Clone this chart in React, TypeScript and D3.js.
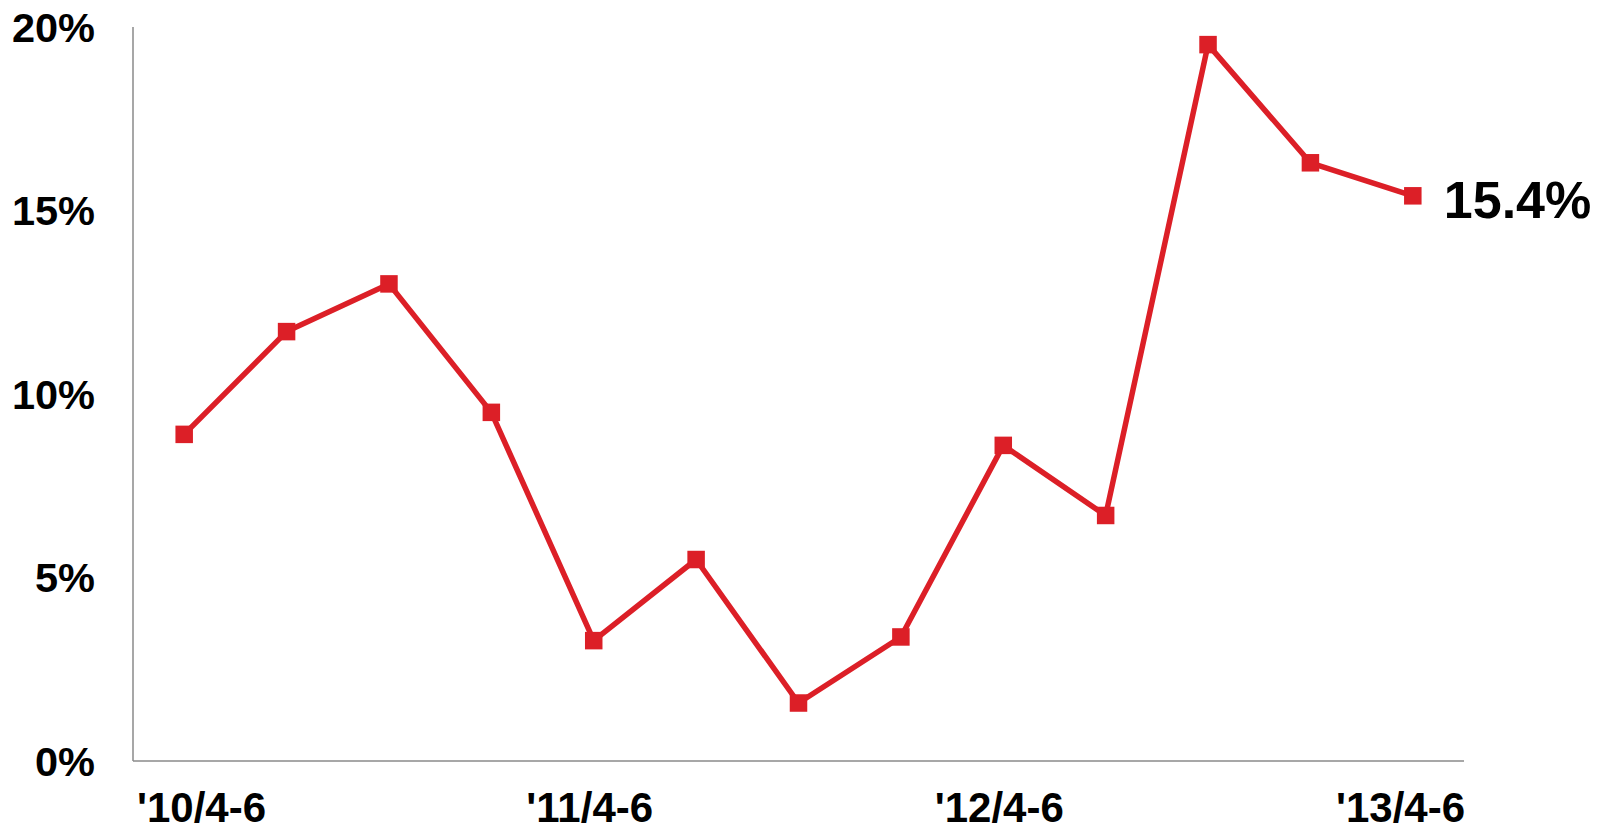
import React from "react";
import * as d3 from "d3";

const categories = [
  "'10/4-6", "'10/7-9", "'10/10-12", "'11/1-3",
  "'11/4-6", "'11/7-9", "'11/10-12", "'12/1-3",
  "'12/4-6", "'12/7-9", "'12/10-12", "'13/1-3",
  "'13/4-6",
];
const values = [8.9, 11.7, 13.0, 9.5, 3.28, 5.49, 1.58, 3.38, 8.6, 6.69, 19.52, 16.3, 15.4];
const yTicks = [0, 5, 10, 15, 20];
const xLabelIdx = [0, 4, 8, 12];
const lastLabel = "15.4%";

const W = 1606;
const H = 827;
const left = 133;
const right = 1464;
const top = 27;
const bottom = 761;
const red = "#dc1f27";
const font = "'Liberation Sans', Arial, sans-serif";

export default function App() {
  const x = d3.scalePoint<string>().domain(categories).range([left, right]).padding(0.5);
  const y = d3.scaleLinear().domain([0, 20]).range([bottom, top]);
  const line = d3
    .line<number>()
    .x((_, i) => x(categories[i]) as number)
    .y((d) => y(d));
  const ms = 17.5;
  const lastX = x(categories[categories.length - 1]) as number;
  const lastY = y(values[values.length - 1]);

  return (
    <svg
      width={W}
      height={H}
      style={{ position: "absolute", left: 0, top: 0, background: "#fff" }}
    >
      <line x1={left} x2={left} y1={top} y2={bottom} stroke="#8a8a8a" strokeWidth={1.5} />
      <line x1={left} x2={right} y1={bottom} y2={bottom} stroke="#8a8a8a" strokeWidth={1.5} />
      {yTicks.map((t) => (
        <text
          key={t}
          x={95}
          y={y(t) + 14.5}
          textAnchor="end"
          fontFamily={font}
          fontWeight="bold"
          fontSize={41.5}
          fill="#000"
        >
          {t}%
        </text>
      ))}
      {xLabelIdx.map((i, k) => {
        const cx = x(categories[i]) as number;
        let anchor = "middle";
        let px = cx - 4;
        if (k === 0) {
          anchor = "start";
          px = left + 4;
        } else if (k === xLabelIdx.length - 1) {
          anchor = "end";
          px = right + 1;
        }
        return (
          <text
            key={i}
            x={px}
            y={822}
            textAnchor={anchor}
            fontFamily={font}
            fontWeight="bold"
            fontSize={42}
            fill="#000"
          >
            {categories[i]}
          </text>
        );
      })}
      <path
        d={line(values) || ""}
        fill="none"
        stroke={red}
        strokeWidth={5.5}
        strokeLinejoin="round"
      />
      {values.map((v, i) => (
        <rect
          key={i}
          x={(x(categories[i]) as number) - ms / 2}
          y={y(v) - ms / 2}
          width={ms}
          height={ms}
          fill={red}
        />
      ))}
      <text
        x={lastX + 31}
        y={lastY + 22.5}
        fontFamily={font}
        fontWeight="bold"
        fontSize={52}
        fill="#000"
      >
        {lastLabel}
      </text>
    </svg>
  );
}
